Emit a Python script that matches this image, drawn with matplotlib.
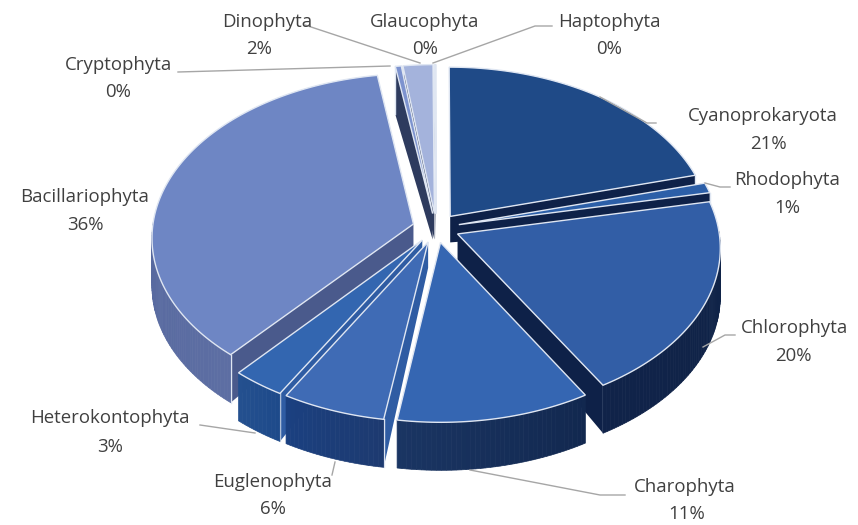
import numpy as np
import matplotlib
matplotlib.use("Agg")
import matplotlib.pyplot as plt
from matplotlib.colors import to_rgb

# phylum shares, clockwise from 12 o'clock
names = ["Cyanoprokaryota", "Rhodophyta", "Chlorophyta", "Charophyta", "Euglenophyta",
         "Heterokontophyta", "Bacillariophyta", "Cryptophyta", "Dinophyta", "Glaucophyta", "Haptophyta"]
shares = [20.8, 1.0, 19.65, 11.0, 5.9, 3.0, 36.15, 0.4, 2.0, 0.05, 0.05]

top_colors = ["#1f4a87", "#2c5fa8", "#325ea6", "#3566b2", "#3f6bb5", "#3366b0",
              "#6e86c4", "#7d93cf", "#a4b3dc", "#a4b3dc", "#a4b3dc"]
wall_from = ["#10264e", "#10264e", "#0f2347", "#12284f", "#1d3a70", "#1e4a8a",
             "#5d6ea3", "#2e3b5e", "#2e3b5e", "#2e3b5e", "#2e3b5e"]
wall_to = ["#10264e", "#10264e", "#102349", "#1a3563", "#1b4080", "#24508f",
           "#4d6199", "#2e3b5e", "#2e3b5e", "#2e3b5e", "#2e3b5e"]
cut_colors = ["#0e2148", "#0e2148", "#0e2148", "#12284f", "#2f5ca3", "#2f5ca3",
              "#4a5a8c", "#2e3b5e", "#2e3b5e", "#2e3b5e", "#2e3b5e"]

# label centres in pixels
name_pos = [(763, 116), (787, 180), (795, 328), (685, 487), (273, 482),
            (110, 418), (85, 197), (118, 65), (267, 22), (425, 22), (609, 22)]
pct_pos = [(768, 144), (787, 208), (793, 356), (687, 514), (273, 509),
           (110, 447), (85, 225), (118, 92), (259, 49), (425, 49), (609, 49)]
leaders = [[(600, 97), (647, 123), (656, 123)],
           [(705, 183), (720, 187), (730, 187)],
           [(703, 347), (725, 335), (735, 335)],
           [(470, 470), (600, 495), (625, 495)],
           [(335, 462), (332, 475)],
           [(200, 425), (255, 433)],
           [(178, 72), (390, 66)],
           [(305, 25), (420, 63)],
           [(552, 26), (535, 26), (433, 63)]]

cx, cy = 436, 228
rx, ry = 261, 163
persp = 0.08
explode = 0.09
depth = 48
apex_depth = 26


def project(u, v, down=0.0):
    s = 1 / (1 + persp * v)
    return cx + rx * u * s, cy - ry * v * s + down


def on_disc(ang, r, off):
    return off[0] + r * np.sin(ang), off[1] + r * np.cos(ang)


fig = plt.figure(figsize=(8.58, 5.25), dpi=100)
ax = fig.add_axes([0, 0, 1, 1])
ax.set_xlim(0, 858)
ax.set_ylim(525, 0)
ax.axis("off")

fracs = np.array(shares) / sum(shares) * 2 * np.pi
ends = np.cumsum(fracs)
starts = ends - fracs
mids = (starts + ends) / 2
edge = "#dfe6f2"

# far slices first so the near ones paint over them
order = sorted(range(len(shares)), key=lambda i: -np.cos(mids[i]))
for i in order:
    off = (explode * np.sin(mids[i]), explode * np.cos(mids[i]))
    a0, a1 = starts[i], ends[i]
    arc = np.linspace(a0, a1, max(3, int(fracs[i] * 60)))
    au, av = on_disc(arc, 1.0, off)

    # straight cut faces
    for ang, normal in [(a0, a0 - np.pi / 2), (a1, a1 + np.pi / 2)]:
        if np.cos(normal) < 0:
            eu, ev = on_disc(ang, 1.0, off)
            x0, y0 = project(off[0], off[1])
            x1, y1 = project(eu, ev)
            x2, y2 = project(eu, ev, depth)
            x3, y3 = project(off[0], off[1], apex_depth)
            ax.fill([x0, x1, x2, x3], [y0, y1, y2, y3], color=cut_colors[i], lw=0, zorder=2)
            ax.plot([x1, x2], [y1, y2], color=edge, lw=1, zorder=2)

    # outer wall, shaded in small steps
    c0, c1 = np.array(to_rgb(wall_from[i])), np.array(to_rgb(wall_to[i]))
    for k in range(len(arc) - 1):
        if np.cos((arc[k] + arc[k + 1]) / 2) > 0.02:
            continue
        xa, ya = project(au[k], av[k])
        xb, yb = project(au[k + 1], av[k + 1])
        xc, yc = project(au[k + 1], av[k + 1], depth)
        xd, yd = project(au[k], av[k], depth)
        t = k / max(1, len(arc) - 2)
        ax.fill([xa, xb, xc, xd], [ya, yb, yc, yd], color=c0 + (c1 - c0) * t,
                ec=c0 + (c1 - c0) * t, lw=0.5, zorder=2)

    # top face
    ax_x, ax_y = project(off[0], off[1])
    tx, ty = project(au, av)
    ax.fill(np.r_[ax_x, tx], np.r_[ax_y, ty], fc=top_colors[i], ec=edge, lw=1, zorder=3)

for pts in leaders:
    xs, ys = zip(*pts)
    ax.plot(xs, ys, color="#a6a6a6", lw=1, zorder=4)

for i, name in enumerate(names):
    ax.text(*name_pos[i], name, ha="center", va="center", fontsize=13.4,
            family="Open Sans", color="#404040", zorder=5)
    ax.text(*pct_pos[i], f"{round(shares[i])}%", ha="center", va="center", fontsize=13.4,
            family="Open Sans", color="#404040", zorder=5)

fig.savefig("out.png", dpi=100, facecolor="white")
